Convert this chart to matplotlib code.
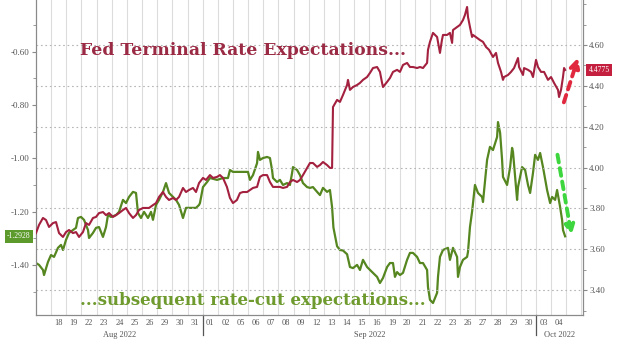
import matplotlib
matplotlib.use("Agg")
import matplotlib.pyplot as plt
import matplotlib.transforms as mtransforms
from matplotlib.patches import FancyArrowPatch
from matplotlib.ticker import MultipleLocator, FuncFormatter, FixedLocator

# ---------------- data ----------------
# x = trading-day index (0 = start of Aug 17 2022 session), fractional = intraday
green_t = [0.00, 0.20, 0.46, 0.53, 0.79, 0.99, 1.19, 1.45, 1.65, 1.78,
           1.98, 2.18, 2.44, 2.64, 2.77, 2.97, 3.17, 3.43, 3.50, 3.76,
           3.96, 4.16, 4.42, 4.62, 4.75, 4.95, 5.28, 5.48, 5.74, 5.94,
           6.14, 6.40, 6.60, 6.73, 6.93, 7.13, 7.39, 7.59, 7.72, 7.92,
           8.12, 8.38, 8.58, 8.78, 9.04, 9.24, 9.44, 9.70, 9.90, 10.10,
           10.56, 10.76, 10.82, 11.02, 11.29, 11.48, 11.95, 12.34, 12.67, 12.80,
           13.00, 13.99, 14.12, 14.32, 14.59, 14.65, 14.78, 14.98, 15.25, 15.44,
           15.58, 15.64, 15.91, 16.10, 16.30, 16.57, 16.76, 16.90, 16.96, 17.23,
           17.42, 17.62, 17.89, 18.08, 18.28, 18.55, 18.74, 18.94, 19.21, 19.40,
           19.54, 19.63, 19.87, 20.06, 20.26, 20.53, 20.72, 20.92, 21.19, 21.38,
           21.58, 21.85, 22.04, 22.24, 22.51, 22.70, 22.90, 23.17, 23.36, 23.56,
           23.69, 23.83, 24.02, 24.22, 24.49, 24.68, 24.88, 25.15, 25.34, 25.54,
           25.81, 25.87, 26.00, 26.20, 26.47, 26.53, 26.66, 26.86, 27.19, 27.32,
           27.52, 27.79, 27.85, 27.98, 28.18, 28.45, 28.51, 28.64, 28.78, 28.97,
           29.17, 29.44, 29.50, 29.77, 29.96, 30.16, 30.43, 30.49, 30.63, 30.76,
           30.82, 31.09, 31.29, 31.42, 31.48, 31.75, 31.81, 32.08, 32.28, 32.47,
           32.61, 32.80, 32.94, 33.13, 33.27, 33.46, 33.73, 33.93, 34.06, 34.26,
           34.39, 34.59, 34.72, 34.78, 34.92]
rate_cut = [-1.393, -1.400, -1.419, -1.438, -1.389, -1.363, -1.370, -1.336, -1.325, -1.344,
            -1.306, -1.280, -1.269, -1.261, -1.224, -1.220, -1.231, -1.269, -1.299, -1.280,
            -1.261, -1.258, -1.295, -1.258, -1.213, -1.220, -1.213, -1.201, -1.156, -1.168,
            -1.145, -1.126, -1.130, -1.205, -1.224, -1.201, -1.224, -1.201, -1.231, -1.175,
            -1.156, -1.126, -1.093, -1.130, -1.145, -1.156, -1.175, -1.224, -1.186, -1.186,
            -1.186, -1.175, -1.168, -1.108, -1.089, -1.074, -1.081, -1.074, -1.074, -1.044,
            -1.051, -1.051, -1.081, -1.063, -1.018, -0.976, -1.006, -0.999, -0.995, -0.999,
            -1.044, -1.074, -1.089, -1.081, -1.100, -1.093, -1.100, -1.055, -1.033, -1.044,
            -1.063, -1.093, -1.108, -1.111, -1.108, -1.126, -1.138, -1.111, -1.126, -1.119,
            -1.183, -1.260, -1.330, -1.344, -1.346, -1.360, -1.408, -1.412, -1.400, -1.419,
            -1.381, -1.408, -1.419, -1.430, -1.445, -1.468, -1.449, -1.408, -1.393, -1.393,
            -1.445, -1.427, -1.438, -1.430, -1.381, -1.355, -1.355, -1.370, -1.393, -1.393,
            -1.419, -1.483, -1.531, -1.543, -1.505, -1.445, -1.370, -1.344, -1.336, -1.381,
            -1.336, -1.370, -1.445, -1.408, -1.381, -1.370, -1.351, -1.258, -1.200, -1.100,
            -1.130, -1.145, -1.164, -1.006, -0.957, -0.969, -0.920, -0.864, -0.905, -1.006,
            -1.070, -1.100, -1.033, -0.961, -0.976, -1.156, -1.108, -1.033, -1.044, -1.100,
            -1.130, -1.055, -0.987, -1.006, -0.980, -1.033, -1.119, -1.168, -1.145, -1.156,
            -1.119, -1.183, -1.231, -1.269, -1.2928]

red_t = [0.00, 0.20, 0.46, 0.66, 0.86, 1.12, 1.32, 1.52, 1.78, 1.98,
         2.18, 2.44, 2.64, 2.84, 3.10, 3.30, 3.50, 3.76, 3.96, 4.16,
         4.42, 4.62, 4.82, 5.08, 5.28, 5.48, 5.74, 5.94, 6.14, 6.40,
         6.60, 6.80, 7.06, 7.26, 7.46, 7.72, 7.92, 8.12, 8.38, 8.58,
         8.78, 9.04, 9.24, 9.44, 9.70, 9.90, 10.10, 10.36, 10.56, 10.76,
         11.02, 11.22, 11.48, 11.68, 11.95, 12.14, 12.34, 12.60, 12.80, 13.00,
         13.26, 13.46, 13.66, 13.93, 14.12, 14.32, 14.59, 14.78, 14.98, 15.25,
         15.44, 15.64, 15.91, 16.10, 16.30, 16.57, 16.76, 16.96, 17.23, 17.42,
         17.62, 17.89, 18.08, 18.28, 18.55, 18.74, 18.94, 19.21, 19.40, 19.54,
         19.60, 19.87, 20.06, 20.26, 20.53, 20.59, 20.72, 20.92, 21.19, 21.38,
         21.58, 21.85, 22.04, 22.24, 22.51, 22.70, 22.84, 22.90, 23.17, 23.36,
         23.56, 23.83, 24.02, 24.22, 24.49, 24.68, 24.88, 25.15, 25.34, 25.54,
         25.81, 25.87, 26.00, 26.20, 26.47, 26.66, 26.79, 26.86, 27.13, 27.32,
         27.46, 27.52, 27.79, 27.98, 28.18, 28.31, 28.45, 28.51, 28.64, 28.78,
         28.84, 29.11, 29.30, 29.50, 29.70, 29.90, 30.16, 30.36, 30.49, 30.69,
         30.82, 30.89, 31.15, 31.35, 31.55, 31.81, 31.88, 32.14, 32.21, 32.47,
         32.67, 32.80, 33.00, 33.13, 33.33, 33.53, 33.79, 33.99, 34.19, 34.45,
         34.52, 34.65, 34.78, 34.85, 34.92]
terminal_rate = [3.679, 3.719, 3.753, 3.743, 3.709, 3.728, 3.733, 3.679, 3.660, 3.684,
                 3.694, 3.679, 3.684, 3.660, 3.684, 3.728, 3.719, 3.753, 3.758, 3.777,
                 3.782, 3.767, 3.777, 3.758, 3.767, 3.777, 3.792, 3.802, 3.777, 3.753,
                 3.767, 3.792, 3.802, 3.802, 3.802, 3.816, 3.826, 3.856, 3.880, 3.856,
                 3.841, 3.851, 3.841, 3.856, 3.900, 3.880, 3.890, 3.900, 3.880, 3.924,
                 3.949, 3.939, 3.963, 3.949, 3.954, 3.963, 3.949, 3.905, 3.851, 3.826,
                 3.841, 3.875, 3.880, 3.880, 3.890, 3.900, 3.905, 3.954, 3.963, 3.963,
                 3.929, 3.905, 3.905, 3.905, 3.900, 3.905, 3.929, 3.939, 3.929, 3.939,
                 3.963, 3.998, 4.022, 4.022, 4.003, 4.012, 4.027, 4.012, 3.998, 3.998,
                 4.296, 4.331, 4.321, 4.355, 4.404, 4.429, 4.380, 4.394, 4.404, 4.414,
                 4.429, 4.443, 4.463, 4.487, 4.492, 4.468, 4.414, 4.394, 4.419, 4.438,
                 4.468, 4.478, 4.468, 4.502, 4.512, 4.492, 4.492, 4.487, 4.492, 4.487,
                 4.512, 4.576, 4.615, 4.659, 4.639, 4.561, 4.624, 4.649, 4.649, 4.659,
                 4.610, 4.673, 4.688, 4.698, 4.722, 4.747, 4.786, 4.737, 4.688, 4.639,
                 4.649, 4.634, 4.624, 4.615, 4.590, 4.576, 4.541, 4.561, 4.512, 4.468,
                 4.429, 4.443, 4.453, 4.468, 4.487, 4.536, 4.492, 4.453, 4.487, 4.478,
                 4.468, 4.443, 4.527, 4.492, 4.468, 4.468, 4.429, 4.443, 4.414, 4.380,
                 4.345, 4.380, 4.443, 4.487, 4.4775]

day_labels = ["18", "19", "22", "23", "24", "25", "26", "29", "30", "31",
              "01", "02", "05", "06", "07", "08", "09", "12", "13", "14",
              "15", "16", "19", "20", "21", "22", "23", "26", "27", "28",
              "29", "30", "03", "04"]
first_label_day = 1          # Aug 18 is day index 1 (Aug 17 = 0)
month_names = ["Aug 2022", "Sep 2022", "Oct 2022"]
month_starts = [0, 11, 33]   # day index at which each month begins
left_ticks = [-1.4, -1.2, -1.0, -0.8, -0.6]
right_ticks = [3.4, 3.6, 3.8, 4.0, 4.2, 4.4, 4.6]

# ---------------- figure ----------------
W, H = 630, 354
fig = plt.figure(figsize=(W / 100, H / 100), dpi=100)
fig.patch.set_facecolor("white")
ax = fig.add_axes([36 / W, 1 - 315 / H, (583 - 36) / W, 315 / H])
ax2 = ax.twinx()

XMAX = 36.1
ax.set_xlim(0, XMAX)
ax.set_ylim(-1.588, -0.406)
ax2.set_ylim(3.278, 4.820)

axis_gray = "#8a8a8a"
label_gray = "#555555"
red = "#a3213f"
green = "#55861f"

for a in (ax, ax2):
    a.spines["top"].set_visible(False)
    for s in ("left", "right", "bottom"):
        a.spines[s].set_color(axis_gray)
        a.spines[s].set_linewidth(0.8)

# vertical day grid
for d in range(1, int(XMAX) + 1):
    ax.axvline(d, color="#dcdcdc", lw=0.8, zorder=0)

# left axis
ax.yaxis.set_major_locator(FixedLocator(left_ticks))
ax.yaxis.set_minor_locator(MultipleLocator(0.1))
ax.yaxis.set_major_formatter(FuncFormatter(lambda v, p: f"{v:.2f}"))
ax.tick_params(axis="y", which="major", direction="out", length=3, width=0.8,
               color=axis_gray, labelsize=6.5, labelcolor=label_gray, pad=1.5)
ax.tick_params(axis="y", which="minor", direction="out", length=2, width=0.6, color=axis_gray)

# right axis
ax2.yaxis.set_major_locator(FixedLocator(right_ticks))
ax2.yaxis.set_minor_locator(MultipleLocator(0.1))
ax2.yaxis.set_major_formatter(FuncFormatter(lambda v, p: f"{v:.2f}"))
ax2.tick_params(axis="y", which="major", direction="out", length=3, width=0.8,
                color=axis_gray, labelsize=6.5, labelcolor=label_gray, pad=1.5)
ax2.tick_params(axis="y", which="minor", direction="out", length=2, width=0.6, color=axis_gray)
ax2.yaxis.grid(True, which="major", linestyle=(0, (1.5, 2.5)), color="#b5b5b5", lw=0.8)
for lab in ax.get_yticklabels() + ax2.get_yticklabels():
    lab.set_fontfamily("Liberation Serif")

# x axis: day labels
pos = [first_label_day + i + 0.5 for i in range(len(day_labels))]
ax.set_xticks(pos)
ax.set_xticklabels(day_labels, fontsize=6, color=label_gray, family="Liberation Serif")
ax.tick_params(axis="x", length=0, pad=3)

trans = mtransforms.blended_transform_factory(ax.transData, ax.transAxes)
bounds = month_starts + [XMAX]
for name, a0, a1 in zip(month_names, bounds[:-1], bounds[1:]):
    ax.text((a0 + a1) / 2, -0.065, name, transform=trans, ha="center", va="center",
            fontsize=6, color=label_gray, family="Liberation Serif")
for m in month_starts[1:]:
    ax.plot([m, m], [0, -0.065], transform=trans, color="#555555", lw=0.9, clip_on=False)

# lines
ax.plot(green_t, rate_cut, color=green, lw=1.6, zorder=3)
ax2.plot(red_t, terminal_rate, color=red, lw=1.5, zorder=3)

# last value tags
ax.annotate(f"{rate_cut[-1]:.4f}", xy=(0, rate_cut[-1]), xycoords=("axes fraction", "data"),
            xytext=(-4, 0), textcoords="offset points", ha="right", va="center",
            fontsize=5.5, color="white", family="Liberation Serif",
            bbox=dict(boxstyle="square,pad=0.3", fc="#5b9a2b", ec="none"), annotation_clip=False)
ax2.annotate(f"{terminal_rate[-1]:.4f}", xy=(1, terminal_rate[-1]), xycoords=("axes fraction", "data"),
             xytext=(4, 0), textcoords="offset points", ha="left", va="center",
             fontsize=5.5, color="white", family="Liberation Serif",
             bbox=dict(boxstyle="square,pad=0.3", fc="#c41f3e", ec="none"), annotation_clip=False)

# text annotations
fig.text(80 / W, 1 - 55 / H, "Fed Terminal Rate Expectations...", color="#9b2b45",
         fontsize=12.4, fontweight="bold", family="DejaVu Serif", ha="left", va="baseline")
fig.text(80 / W, 1 - 305 / H, "...subsequent rate-cut expectations...", color="#6e9a2e",
         fontsize=12, fontweight="bold", family="DejaVu Serif", ha="left", va="baseline")

# arrows
fig.add_artist(FancyArrowPatch(
    (563 / W, 1 - 105 / H), (579 / W, 1 - 55 / H), transform=fig.transFigure,
    arrowstyle="-|>", mutation_scale=14, lw=2.8, linestyle=(0, (2, 1.5)),
    color="#e0283e"))
fig.add_artist(FancyArrowPatch(
    (557 / W, 1 - 152 / H), (572 / W, 1 - 238 / H), transform=fig.transFigure,
    arrowstyle="-|>", mutation_scale=14, lw=2.8, linestyle=(0, (2, 1.5)),
    color="#3ed63e"))

fig.savefig("out.png", dpi=100, facecolor="white")
